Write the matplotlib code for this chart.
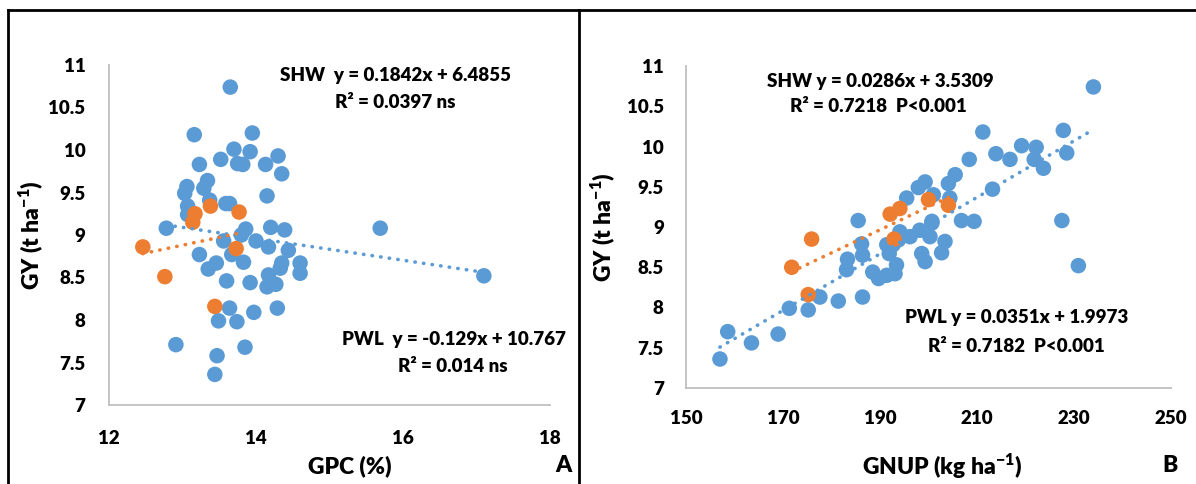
import numpy as np
import matplotlib
matplotlib.use("Agg")
import matplotlib.pyplot as plt
from matplotlib.lines import Line2D

plt.rcParams["font.family"] = ["Lato", "DejaVu Sans"]
plt.rcParams["font.weight"] = "heavy"
plt.rcParams["mathtext.fontset"] = "custom"
plt.rcParams["mathtext.rm"] = "Lato:heavy"
plt.rcParams["mathtext.bf"] = "Lato:heavy"

BLUE = "#5B9BD5"
ORANGE = "#ED7D31"
WT = "heavy"

# Panel A: GPC (%) vs GY
gpc_pwl = [13.65, 13.16, 13.95, 13.70, 13.92, 14.30, 13.52, 13.23, 13.75, 13.82,
           14.13, 14.35, 13.34, 13.29, 13.06, 13.03, 14.15, 13.37, 13.59, 13.64,
           13.07, 13.07, 12.78, 15.69, 13.86, 14.20, 14.39, 13.56, 13.80, 14.00,
           14.17, 14.44, 13.23, 13.67, 13.83, 14.35, 14.33, 14.60, 14.60, 13.46,
           13.35, 13.60, 13.92, 14.17, 14.15, 14.27, 13.64, 14.29, 13.97, 13.49,
           13.74, 12.91, 13.85, 13.47, 13.44, 17.10]
gy_pwl_a = [10.74, 10.18, 10.20, 10.01, 9.98, 9.93, 9.89, 9.83, 9.84, 9.83,
            9.83, 9.72, 9.64, 9.55, 9.57, 9.49, 9.46, 9.41, 9.37, 9.37,
            9.34, 9.24, 9.08, 9.08, 9.07, 9.09, 9.06, 8.93, 9.00, 8.93,
            8.86, 8.82, 8.77, 8.77, 8.68, 8.67, 8.61, 8.67, 8.55, 8.67,
            8.60, 8.46, 8.44, 8.53, 8.39, 8.42, 8.14, 8.14, 8.09, 7.99,
            7.98, 7.71, 7.68, 7.58, 7.36, 8.52]
gpc_shw = [13.38, 13.77, 13.17, 13.14, 12.46, 13.73, 12.76, 13.44]
gy_shw_a = [9.34, 9.27, 9.25, 9.15, 8.86, 8.84, 8.51, 8.16]

# Panel B: GNUP (kg ha-1) vs GY
gnup_pwl = [234.0, 227.8, 211.2, 219.2, 222.2, 213.9, 228.5, 216.8, 221.8, 208.4,
            223.7, 205.5, 204.1, 199.3, 197.9, 213.2, 201.0, 195.5, 204.4, 185.5,
            206.8, 209.4, 227.5, 200.7, 200.7, 198.2, 194.1, 196.2, 200.3, 193.8,
            203.4, 186.2, 191.4, 192.7, 202.7, 198.6, 191.9, 186.4, 183.3, 199.3,
            193.4, 230.9, 183.1, 188.5, 193.1, 191.4, 189.7, 177.6, 186.4, 181.4,
            171.3, 175.2, 158.6, 169.0, 163.5, 157.0]
gy_pwl_b = [10.74, 10.20, 10.18, 10.01, 9.99, 9.91, 9.92, 9.84, 9.84, 9.84,
            9.73, 9.65, 9.54, 9.56, 9.49, 9.47, 9.40, 9.36, 9.36, 9.08,
            9.08, 9.07, 9.08, 9.07, 9.05, 8.96, 8.94, 8.88, 8.88, 8.84,
            8.82, 8.79, 8.78, 8.78, 8.68, 8.67, 8.67, 8.65, 8.60, 8.57,
            8.53, 8.52, 8.47, 8.44, 8.42, 8.40, 8.36, 8.13, 8.13, 8.08,
            7.99, 7.97, 7.70, 7.67, 7.56, 7.36]
gnup_shw = [175.9, 171.8, 175.2, 192.1, 194.1, 200.0, 204.1, 192.9]
gy_shw_b = [8.85, 8.50, 8.16, 9.16, 9.23, 9.34, 9.27, 8.85]

# trendline coefficients (slope, intercept) from the chart labels
fit_a_shw = (0.1842, 6.4855)
fit_a_pwl = (-0.129, 10.767)
fit_b_shw = (0.0286, 3.5309)
fit_b_pwl = (0.0351, 1.9973)

W, H = 1196, 484
fig = plt.figure(figsize=(W / 100, H / 100), dpi=100)


def px(x, y):
    return x / W, 1 - y / H


def style_axes(ax, xlim, xticks, ylim, yticks, xpad, ypad):
    ax.set_xlim(*xlim)
    ax.set_ylim(*ylim)
    ax.set_xticks(xticks)
    ax.set_yticks(yticks)
    ax.set_yticklabels([("%g" % t) for t in yticks])
    for s in ["top", "right"]:
        ax.spines[s].set_visible(False)
    for s in ["left", "bottom"]:
        ax.spines[s].set_color("#BFBFBF")
        ax.spines[s].set_linewidth(1.3)
    ax.tick_params(length=0, labelsize=13.5)
    ax.tick_params(axis="x", pad=xpad)
    ax.tick_params(axis="y", pad=ypad)
    for lab in ax.get_xticklabels() + ax.get_yticklabels():
        lab.set_fontweight(WT)


def trend(ax, x, fit, color):
    xs = np.array([min(x), max(x)])
    ax.plot(xs, fit[0] * xs + fit[1], color=color, lw=2.6,
            linestyle=(0, (0.1, 2.3)), dash_capstyle="round", zorder=5)


def scatter(ax, x, y, color, z):
    ax.scatter(x, y, s=125, color=color, edgecolors="none", zorder=z)


# panel A
l, b = px(109, 405)
r, t = px(550, 65)
axA = fig.add_axes([l, b, r - l, t - b])
scatter(axA, gpc_pwl, gy_pwl_a, BLUE, 3)
scatter(axA, gpc_shw, gy_shw_a, ORANGE, 4)
trend(axA, gpc_pwl, fit_a_pwl, BLUE)
trend(axA, gpc_shw, fit_a_shw, ORANGE)
style_axes(axA, (12, 18), [12, 14, 16, 18], (7, 11),
           [7, 7.5, 8, 8.5, 9, 9.5, 10, 10.5, 11], 18, 17)

# panel B
l, b = px(686, 388)
r, t = px(1171, 66)
axB = fig.add_axes([l, b, r - l, t - b])
scatter(axB, gnup_pwl, gy_pwl_b, BLUE, 3)
scatter(axB, gnup_shw, gy_shw_b, ORANGE, 4)
trend(axB, gnup_pwl, fit_b_pwl, BLUE)
trend(axB, gnup_shw, fit_b_shw, ORANGE)
style_axes(axB, (150, 250), [150, 170, 190, 210, 230, 250], (7, 11),
           [7, 7.5, 8, 8.5, 9, 9.5, 10, 10.5, 11], 16, 16)

# axis titles
ylab = r"GY (t ha$^{\mathbf{-1}}$)"
fig.text(*px(31, 235), ylab, rotation=90, ha="center", va="center",
         fontsize=16.5, fontweight=WT)
fig.text(*px(603, 227), ylab, rotation=90, ha="center", va="center",
         fontsize=16.5, fontweight=WT)
fig.text(*px(350, 466), "GPC (%)", ha="center", va="center",
         fontsize=16.5, fontweight=WT)
fig.text(*px(942, 466), r"GNUP (kg ha$^{\mathbf{-1}}$)", ha="center", va="center",
         fontsize=16.5, fontweight=WT)
fig.text(*px(563, 466), "A", ha="center", va="center", fontsize=16.5, fontweight=WT)
fig.text(*px(1170, 466), "B", ha="center", va="center", fontsize=16.5, fontweight=WT)

# equation labels
eq = dict(fontsize=13.5, fontweight=WT, va="center", ha="left")
fig.text(*px(280, 75), "SHW  y = 0.1842x + 6.4855", **eq)
fig.text(*px(335, 103), "R² = 0.0397 ns", **eq)
fig.text(*px(342, 339), "PWL  y = -0.129x + 10.767", **eq)
fig.text(*px(398, 367), "R² = 0.014 ns", **eq)
fig.text(*px(767, 82), "SHW y = 0.0286x + 3.5309", **eq)
fig.text(*px(790, 107), "R² = 0.7218  P<0.001", **eq)
fig.text(*px(905, 318), "PWL y = 0.0351x + 1.9973", **eq)
fig.text(*px(928, 347), "R² = 0.7182  P<0.001", **eq)

# panel frame lines
for xs, ys in [([8, 8], [10, H]), ([579, 579], [10, H]), ([8, W], [10, 10])]:
    fig.add_artist(Line2D([x / W for x in xs], [1 - y / H for y in ys],
                          color="black", lw=2))

fig.savefig("out.png", dpi=100)
